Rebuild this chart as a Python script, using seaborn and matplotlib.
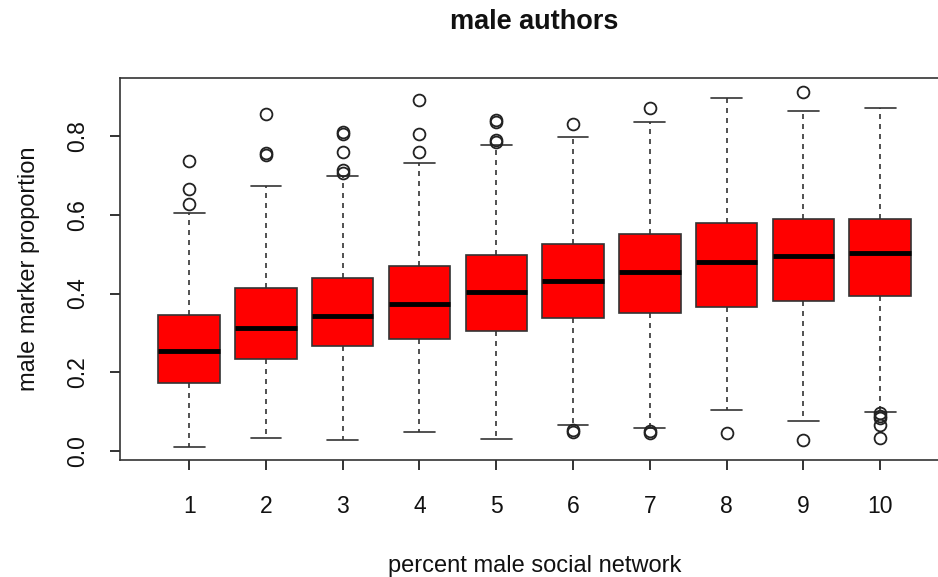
import numpy as np
import matplotlib
matplotlib.use("Agg")
import matplotlib.pyplot as plt
import seaborn as sns

# box statistics, one entry per group
groups = ["1", "2", "3", "4", "5", "6", "7", "8", "9", "10"]
whisker_lo = [0.012, 0.035, 0.028, 0.050, 0.032, 0.066, 0.058, 0.104, 0.078, 0.099]
q1 = [0.174, 0.235, 0.266, 0.285, 0.306, 0.338, 0.352, 0.366, 0.382, 0.394]
median = [0.255, 0.312, 0.344, 0.374, 0.404, 0.431, 0.456, 0.481, 0.496, 0.504]
q3 = [0.346, 0.415, 0.439, 0.469, 0.497, 0.526, 0.551, 0.580, 0.590, 0.590]
whisker_hi = [0.604, 0.673, 0.697, 0.731, 0.777, 0.798, 0.834, 0.895, 0.864, 0.870]
outliers = [
    [0.628, 0.665, 0.735],
    [0.752, 0.757, 0.855],
    [0.705, 0.714, 0.760, 0.805, 0.810],
    [0.758, 0.805, 0.891],
    [0.785, 0.790, 0.835, 0.840],
    [0.050, 0.055, 0.830],
    [0.047, 0.052, 0.870],
    [0.046],
    [0.029, 0.912],
    [0.035, 0.067, 0.084, 0.090, 0.096],
]

sns.set_style("white")
plt.rcParams["font.family"] = ["Liberation Sans", "DejaVu Sans"]
plt.rcParams["text.color"] = "#111111"
plt.rcParams["axes.labelcolor"] = "#111111"
plt.rcParams["xtick.color"] = "#111111"
plt.rcParams["ytick.color"] = "#111111"

stats = []
for i, g in enumerate(groups):
    stats.append({
        "label": g,
        "whislo": whisker_lo[i],
        "q1": q1[i],
        "med": median[i],
        "q3": q3[i],
        "whishi": whisker_hi[i],
        "fliers": outliers[i],
    })

fig = plt.figure(figsize=(9.38, 5.77), dpi=100)
ax = fig.add_axes([0.128, 0.203, 0.884, 0.662])

ax.bxp(
    stats,
    positions=np.arange(1, len(groups) + 1),
    widths=0.8,
    patch_artist=True,
    boxprops=dict(facecolor="red", edgecolor="#333333", linewidth=1.2),
    medianprops=dict(color="black", linewidth=3.5, solid_capstyle="butt"),
    whiskerprops=dict(color="#333333", linewidth=1.2, linestyle=(0, (3, 3))),
    capprops=dict(color="#333333", linewidth=1.2),
    capwidths=0.4,
    flierprops=dict(marker="o", markerfacecolor="none", markeredgecolor="#222222",
                    markersize=8.5, markeredgewidth=1.3),
)

ax.set_xlim(0.1, 10.9)
ax.set_ylim(-0.0216, 0.947)
ax.set_yticks([0.0, 0.2, 0.4, 0.6, 0.8])
ax.set_yticklabels(["0.0", "0.2", "0.4", "0.6", "0.8"], rotation=90, va="center")
ax.set_xticks(np.arange(1, len(groups) + 1))
ax.set_xticklabels(groups)
ax.tick_params(axis="both", labelsize=16.5, length=7, width=1.2,
               direction="out", left=True, bottom=True)
ax.tick_params(axis="x", pad=18)
ax.tick_params(axis="y", pad=15)
for s in ax.spines.values():
    s.set_color("#333333")
    s.set_linewidth(1.2)

ax.set_xlabel("percent male social network", fontsize=17, labelpad=27)
ax.set_ylabel("male marker proportion", fontsize=17, labelpad=19)
fig.suptitle("male authors", fontsize=19.5, fontweight="bold", x=0.57, y=0.985)

fig.savefig("out.png", dpi=100)
